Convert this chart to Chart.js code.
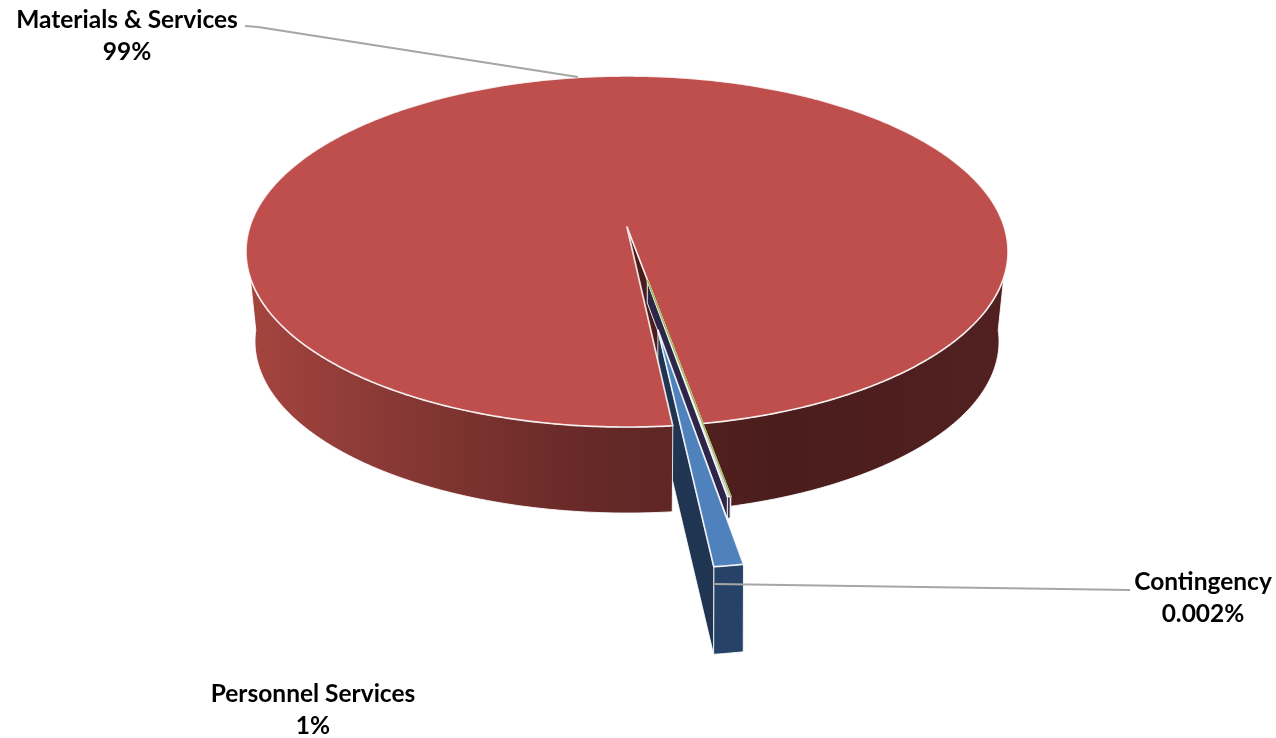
<!DOCTYPE html>
<html>
<head>
<meta charset="utf-8">
<title>Budget share</title>
<script src="https://cdn.jsdelivr.net/npm/chart.js@4/dist/chart.umd.min.js"></script>
<style>
  html, body { margin: 0; padding: 0; background: #fff; }
  canvas { display: block; }
</style>
</head>
<body>
<canvas id="budgetPie" width="1276" height="738"></canvas>
<script>
const categories = ['Materials & Services', 'Contingency', 'Other', 'Personnel Services'];
const shares = [99, 0.002, 0.1, 1];
const shareLabels = ['99%', '0.002%', '', '1%'];

const topColors = ['#BE4F4C', '#9BBB59', '#C4B8D8', '#4F81BD'];
const cutColors = ['#4A1D1C', '#55662F', '#2E2648', '#1F3552'];
const rimColors = ['#4F1F1E', '#55662F', '#3A2E55', '#264367'];

// perspective of the lid and of the lower face of the disc
const LID = { cx: 627, cy: 227, R: 377.3, B: 172.1, k: 0.1396 };
const BASE = { cx: 627, cy: 315.5, R: 367.7, B: 167.6, k: 0.1515 };

// how far each slice is pulled out (in disc radii) and how much of its wall shows
const PULL = [0, 0.304, 0.304, 0.558];
const WALL = [1, 0.25, 0.25, 1];

const LABEL_FONT = 'bold 24.5px Lato';
const LEADER_COLOR = '#A6A6A6';

function project(disc, u, v) {
  const w = 1 - disc.k * v;
  return [disc.cx + disc.R * u / w, disc.cy + disc.B * v / w];
}

function sliceShift(arc, i) {
  const mid = (arc.startAngle + arc.endAngle) / 2;
  return [PULL[i] * Math.cos(mid), PULL[i] * Math.sin(mid)];
}

function rimPoint(disc, shift, a) {
  return project(disc, shift[0] + Math.cos(a), shift[1] + Math.sin(a));
}

function wallPoint(shift, a, depth) {
  const t = rimPoint(LID, shift, a);
  const b = rimPoint(BASE, shift, a);
  return [t[0] + (b[0] - t[0]) * depth, t[1] + (b[1] - t[1]) * depth];
}

function polygon(ctx, pts) {
  ctx.beginPath();
  pts.forEach((p, n) => n ? ctx.lineTo(p[0], p[1]) : ctx.moveTo(p[0], p[1]));
  ctx.closePath();
}

function sweep(a, b) {
  const out = [];
  const step = Math.PI / 360;
  for (let t = a; t < b; t += step) out.push(t);
  out.push(b);
  return out;
}

function drawWall(ctx, arc, i, a, b, fill) {
  const shift = sliceShift(arc, i);
  const angles = sweep(a, b);
  const pts = angles.map(t => rimPoint(LID, shift, t))
    .concat(angles.slice().reverse().map(t => wallPoint(shift, t, WALL[i])));
  polygon(ctx, pts);
  ctx.fillStyle = fill;
  ctx.fill();
  ctx.strokeStyle = arc.options.borderColor;
  ctx.lineWidth = 1;
  ctx.stroke();
}

// radial cut face of a slice at angle a
function drawCut(ctx, arc, i, a) {
  const shift = sliceShift(arc, i);
  const depth = WALL[i];
  const apexTop = project(LID, shift[0], shift[1]);
  const apexLow = project(BASE, shift[0], shift[1]);
  const apexBase = [apexTop[0] + (apexLow[0] - apexTop[0]) * depth, apexTop[1] + (apexLow[1] - apexTop[1]) * depth];
  polygon(ctx, [apexTop, rimPoint(LID, shift, a), wallPoint(shift, a, depth), apexBase]);
  ctx.fillStyle = cutColors[i];
  ctx.fill();
  ctx.strokeStyle = arc.options.borderColor;
  ctx.lineWidth = 1;
  ctx.stroke();
}

function drawTop(ctx, arc, i) {
  const shift = sliceShift(arc, i);
  const apex = project(LID, shift[0], shift[1]);
  const pts = [apex].concat(sweep(arc.startAngle, arc.endAngle).map(t => rimPoint(LID, shift, t)));
  polygon(ctx, pts);
  ctx.fillStyle = arc.options.backgroundColor;
  ctx.fill();
  ctx.strokeStyle = arc.options.borderColor;
  ctx.lineWidth = arc.options.borderWidth;
  ctx.stroke();
  // slices too narrow to fill still get a coloured line
  if (arc.endAngle - arc.startAngle < 0.001) {
    ctx.strokeStyle = arc.options.backgroundColor;
    ctx.lineWidth = 1.6;
    ctx.stroke();
  }
}

function mainWallFill(ctx, stops) {
  const g = ctx.createLinearGradient(250, 0, 1005, 0);
  stops.forEach(s => g.addColorStop(s[0], s[1]));
  return g;
}

function drawLeader(ctx, pts) {
  ctx.beginPath();
  pts.forEach((p, n) => n ? ctx.lineTo(p[0], p[1]) : ctx.moveTo(p[0], p[1]));
  ctx.strokeStyle = LEADER_COLOR;
  ctx.lineWidth = 2;
  ctx.stroke();
}

function drawLabel(ctx, i, x, y) {
  ctx.font = LABEL_FONT;
  ctx.fillStyle = '#000';
  ctx.textAlign = 'center';
  ctx.textBaseline = 'middle';
  ctx.fillText(categories[i], x, y);
  ctx.fillText(shareLabels[i], x, y + 32.5);
}

const tiltedPie = {
  id: 'tiltedPie',
  beforeDatasetsDraw(chart) {
    const ctx = chart.ctx;
    const arcs = chart.getDatasetMeta(0).data;
    const main = arcs[0];
    const mainStart = main.startAngle;
    const mainEnd = main.endAngle;
    const wrap = Math.PI * 2;

    ctx.save();
    ctx.lineJoin = 'round';

    const leftFill = mainWallFill(ctx, [[0, '#A5443F'], [0.15, '#8E3B37'], [0.3, '#7A322F'], [0.45, '#662927'], [0.57, '#5E2625']]);
    const rightFill = mainWallFill(ctx, [[0.55, '#54211F'], [0.7, '#4A1D1C'], [1, '#522020']]);

    // back-to-front: right wall, pulled slices, left wall, then the lids
    drawWall(ctx, main, 0, 5 * Math.PI / 180, mainEnd - wrap, rightFill);
    drawCut(ctx, main, 0, mainEnd);

    [1, 2, 3].forEach(i => {
      const arc = arcs[i];
      drawWall(ctx, arc, i, arc.startAngle, arc.endAngle, rimColors[i]);
      drawCut(ctx, arc, i, arc.endAngle);
    });

    drawWall(ctx, main, 0, mainStart, 175 * Math.PI / 180, leftFill);

    [0, 2, 1, 3].forEach(i => drawTop(ctx, arcs[i], i));

    drawLeader(ctx, [[245, 26], [258, 27], [578, 77]]);
    drawLeader(ctx, [[715, 584], [1130, 590]]);

    drawLabel(ctx, 0, 127, 20);
    drawLabel(ctx, 1, 1203, 582);
    drawLabel(ctx, 3, 313, 694);
    ctx.restore();
    return false;
  }
};

new Chart(document.getElementById('budgetPie'), {
  type: 'pie',
  data: {
    labels: categories,
    datasets: [{
      data: shares,
      backgroundColor: topColors,
      borderColor: 'rgba(255,255,255,0.85)',
      borderWidth: 1.7
    }]
  },
  options: {
    responsive: false,
    animation: false,
    rotation: 174,
    plugins: { legend: { display: false }, tooltip: { enabled: false } }
  },
  plugins: [tiltedPie]
});
</script>
</body>
</html>
